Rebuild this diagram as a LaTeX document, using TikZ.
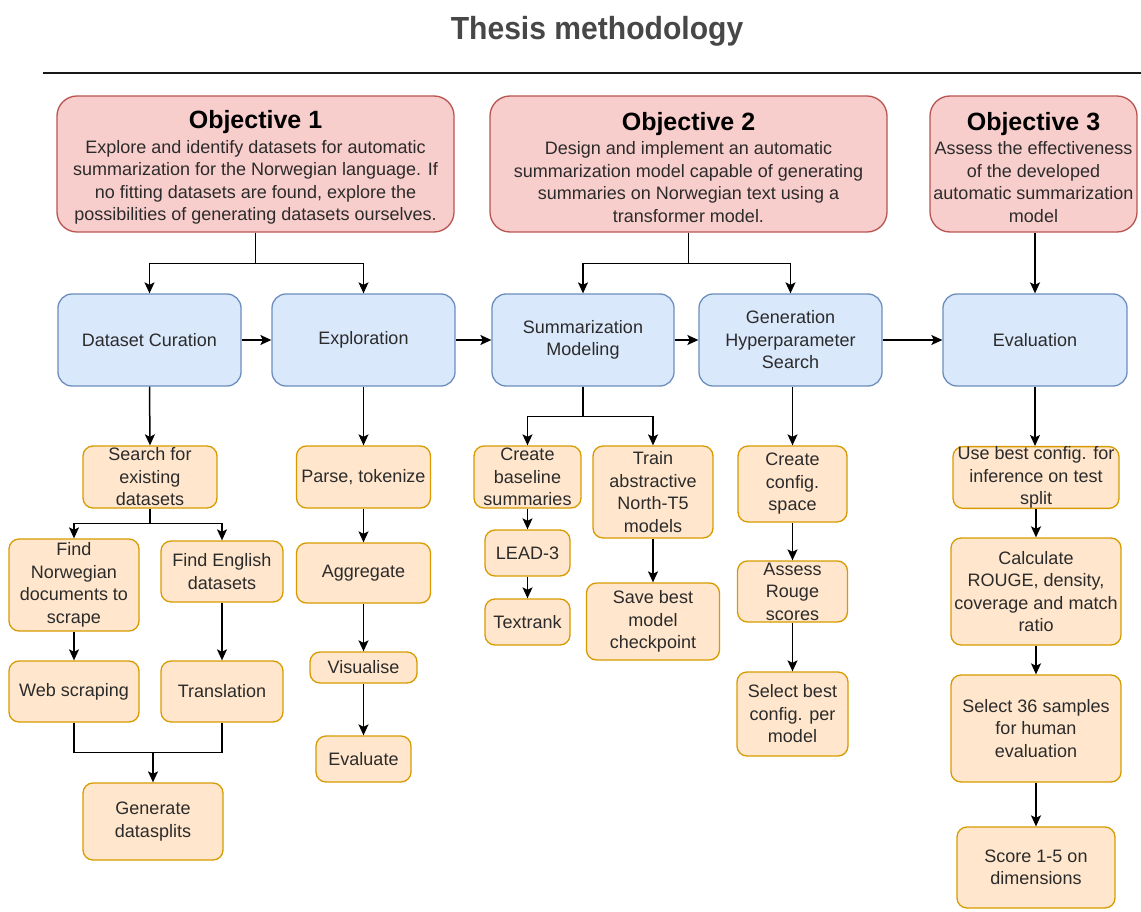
\documentclass[tikz,border=0pt]{standalone}
\usepackage{fontspec}
\setmainfont{Liberation Sans}
\usetikzlibrary{arrows.meta}
\definecolor{objfill}{HTML}{F8CECC}
\definecolor{objline}{HTML}{B85450}
\definecolor{phfill}{HTML}{DAE8FC}
\definecolor{phline}{HTML}{6C8EBF}
\definecolor{stfill}{HTML}{FFE6CC}
\definecolor{stline}{HTML}{D79B00}
\definecolor{bodytext}{HTML}{2B2B2B}
\definecolor{titletext}{HTML}{474747}
\tikzset{
  base/.style={align=center, inner sep=0pt, line width=1.3pt, text=bodytext,
    font=\fontsize{18}{22.5}\selectfont},
  objbox/.style={base, rounded corners=20pt, fill=objfill, draw=objline},
  phasebox/.style={base, rounded corners=14pt, fill=phfill, draw=phline},
  stepbox/.style={base, rounded corners=10pt, fill=stfill, draw=stline},
  conn/.style={line width=1.5pt, black},
  arr/.style={conn, -{Stealth[length=11pt,width=10pt,inset=2.5pt]}},
}
% objective heading, with a strut that pushes the text block a little lower
\newcommand{\objhead}[1]{\rule{0pt}{25pt}{\fontsize{25}{25}\selectfont\bfseries\color{black}#1}}
\begin{document}
\begin{tikzpicture}[x=1pt,y=-1pt]
\useasboundingbox (0,0) rectangle (1141,912);

% title and rule
\node[anchor=base, text=titletext, inner sep=0pt] (title) at (597,40)
  {\scalebox{0.94}[1]{\fontsize{32}{32}\selectfont\bfseries Thesis methodology}};
\draw[line width=2.5pt, black!90] (43,73) coordinate (rl) -- (1141,73) coordinate (rr);

% objectives
\node[objbox, minimum width=397pt, minimum height=136pt] (obj1) at (255.5,164)
  {\objhead{Objective 1}\\[2pt]Explore and identify datasets for automatic\\summarization for the Norwegian language. If\\no fitting datasets are found, explore the\\possibilities of generating datasets ourselves.};
\node[objbox, minimum width=397pt, minimum height=136pt] (obj2) at (688.5,164)
  {\objhead{Objective 2}\\[2pt]Design and implement an automatic\\summarization model capable of generating\\summaries on Norwegian text using a\\transformer model.};
\node[objbox, minimum width=207pt, minimum height=136pt] (obj3) at (1033.5,164)
  {\objhead{Objective 3}\\[2pt]Assess the effectiveness\\of the developed\\automatic summarization\\model};

% phases
\node[phasebox, minimum width=183pt, minimum height=92pt] (dc) at (149.5,340) {Dataset Curation};
\node[phasebox, minimum width=183pt, minimum height=92pt] (ex) at (363.5,340) {Exploration};
\node[phasebox, minimum width=182pt, minimum height=92pt] (sm) at (583,340) {Summarization\\Modeling};
\node[phasebox, minimum width=183pt, minimum height=92pt] (ghs) at (790.5,340) {Generation\\Hyperparameter\\Search};
\node[phasebox, minimum width=184pt, minimum height=92pt] (ev) at (1035,340) {Evaluation};

% dataset curation steps
\node[stepbox, minimum width=134pt, minimum height=62pt] (search) at (150,477) {Search for\\existing\\datasets};
\node[stepbox, minimum width=130pt, minimum height=92pt] (fn) at (74,585) {Find\\Norwegian\\documents to\\scrape};
\node[stepbox, minimum width=122pt, minimum height=61pt] (fe) at (222,571.5) {Find English\\datasets};
\node[stepbox, minimum width=130pt, minimum height=61pt] (ws) at (74,691.5) {Web scraping};
\node[stepbox, minimum width=122pt, minimum height=61pt] (tr) at (222,691.5) {Translation};
\node[stepbox, minimum width=140pt, minimum height=77pt] (gen) at (153,821.5) {Generate\\datasplits};

% exploration steps
\node[stepbox, minimum width=134pt, minimum height=62pt] (parse) at (363.5,477) {Parse, tokenize};
\node[stepbox, minimum width=134pt, minimum height=60pt] (agg) at (363.5,573) {Aggregate};
\node[stepbox, minimum width=107pt, minimum height=31pt] (vis) at (363.5,667.5) {Visualise};
\node[stepbox, minimum width=95pt, minimum height=46pt] (evl) at (363.5,759) {Evaluate};

% modeling steps
\node[stepbox, minimum width=107pt, minimum height=62pt] (cb) at (527.5,477) {Create\\baseline\\summaries};
\node[stepbox, minimum width=120pt, minimum height=92pt] (train) at (653,492) {Train\\abstractive\\North-T5\\models};
\node[stepbox, minimum width=85pt, minimum height=46pt] (lead) at (527.5,553) {LEAD-3};
\node[stepbox, minimum width=85pt, minimum height=46pt] (tex) at (527.5,622) {Textrank};
\node[stepbox, minimum width=133pt, minimum height=77pt] (save) at (653,621.5) {Save best\\model\\checkpoint};

% hyperparameter search steps
\node[stepbox, minimum width=109pt, minimum height=76pt] (cc) at (792.5,484) {Create\\config.\\space};
\node[stepbox, minimum width=110pt, minimum height=61pt] (ar) at (792.5,591.5) {Assess\\Rouge\\scores};
\node[stepbox, minimum width=111pt, minimum height=84pt] (sel) at (792.5,714) {Select best\\config. per\\model};

% evaluation steps
\node[stepbox, minimum width=166pt, minimum height=61pt] (ub) at (1036,477.5) {Use best config. for\\inference on test\\split};
\node[stepbox, minimum width=170pt, minimum height=107pt] (calc) at (1036,591.5) {Calculate\\ROUGE, density,\\coverage and match\\ratio};
\node[stepbox, minimum width=170pt, minimum height=107pt] (s36) at (1036,728.5) {Select 36 samples\\for human\\evaluation};
\node[stepbox, minimum width=158pt, minimum height=81pt] (score) at (1036,867.5) {Score 1-5 on\\dimensions};

% objectives to phases
\draw[arr] (obj1.south) -- ++(0,31) -| (dc.north);
\draw[arr] (obj1.south) -- ++(0,31) -| (ex.north);
\draw[arr] (obj2.south) -- ++(0,31) -| (sm.north);
\draw[arr] (obj2.south) -- ++(0,31) -| (ghs.north);
\draw[arr] (ev.north |- obj3.south) -- (ev.north);

% phase sequence
\draw[arr] (dc.east) -- (ex.west);
\draw[arr] (ex.east) -- (sm.west);
\draw[arr] (sm.east) -- (ghs.west);
\draw[arr] (ghs.east) -- (ev.west);

% dataset curation flow
\draw[arr] (dc.south) -- (search.north);
\draw[arr] (search.south) -- ++(0,15) -| (fn.north);
\draw[arr] (search.south) -- ++(0,15) -| (fe.north);
\draw[arr] (fn.south) -- (ws.north);
\draw[arr] (fe.south) -- (tr.north);
\draw[conn] (ws.south) -- ++(0,30) coordinate (wsj) -| (tr.south);
\draw[arr] (gen.north |- wsj) -- (gen.north);

% exploration flow
\draw[arr] (ex.south) -- (parse.north);
\draw[arr] (parse.south) -- (agg.north);
\draw[arr] (agg.south) -- (vis.north);
\draw[arr] (vis.south) -- (evl.north);

% modeling flow
\draw[arr] (sm.south) -- ++(0,30) -| (cb.north);
\draw[arr] (sm.south) -- ++(0,30) -| (train.north);
\draw[arr] (cb.south) -- (lead.north);
\draw[arr] (lead.south) -- (tex.north);
\draw[arr] (train.south) -- (save.north);

% hyperparameter search flow
\draw[arr] (cc.north |- ghs.south) -- (cc.north);
\draw[arr] (cc.south) -- (ar.north);
\draw[arr] (ar.south) -- (sel.north);

% evaluation flow
\draw[arr] (ev.south) -- (ev.south |- ub.north);
\draw[arr] (ub.south) -- (calc.north);
\draw[arr] (calc.south) -- (s36.north);
\draw[arr] (s36.south) -- (score.north);
\end{tikzpicture}
\end{document}
